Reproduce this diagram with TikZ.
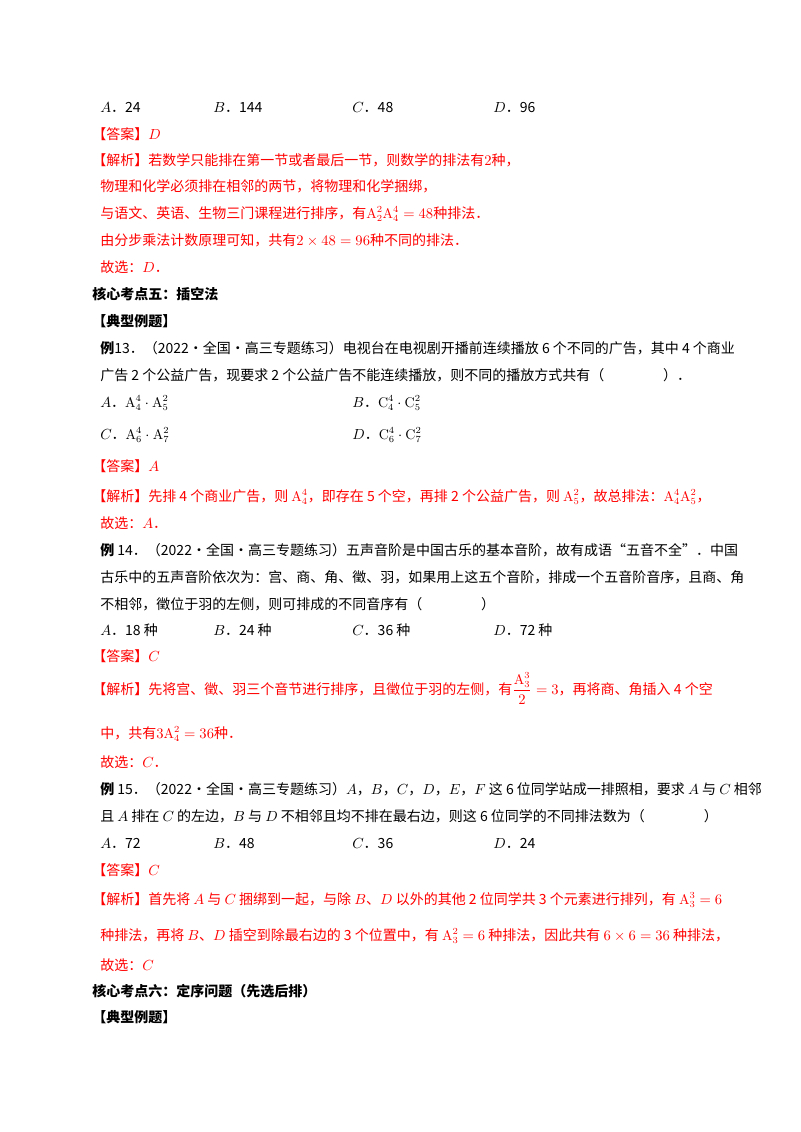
\documentclass[tikz,border=0pt]{standalone}
\usepackage{fontspec}
\newfontfamily\cjk{Noto Sans CJK SC}
\tikzset{
 t/.style={anchor=base west, inner sep=0pt, font=\cjk\fontsize{10.5}{12}\selectfont},
 r/.style={t, text=red},
 hb/.style={t, font=\cjk\bfseries\fontsize{10.5}{12}\selectfont}
}
\newcommand{\A}[2]{\mathrm{A}_{#1}^{#2}}
\newcommand{\Cc}[2]{\mathrm{C}_{#1}^{#2}}
\begin{document}
\begin{tikzpicture}[x=0.75pt,y=-0.75pt]
\fill[white] (0,0) rectangle (800,1132);
\node[t] (l1a) at (100,112) {$A$．24};
\node[t] (l1b) at (213,112) {$B$．144};
\node[t] (l1c) at (352,112) {$C$．48};
\node[t] (l1d) at (493,112) {$D$．96};
\node[r] (l2) at (92,139) {【答案】$D$};
\node[r] (l3) at (92,165) {【解析】若数学只能排在第一节或者最后一节，则数学的排法有$2$种，};
\node[r] (l4) at (100,191) {物理和化学必须排在相邻的两节，将物理和化学捆绑，};
\node[r] (l5) at (100,218) {与语文、英语、生物三门课程进行排序，有$\A{2}{2}\A{4}{4}=48$种排法．};
\node[r] (l6) at (100,245) {由分步乘法计数原理可知，共有$2\times48=96$种不同的排法．};
\node[r] (l7) at (100,272) {故选：$D$．};
\node[hb] (h5) at (92,299) {核心考点五：插空法};
\node[hb] (d1) at (92,326) {【典型例题】};
\node[t] (e13a) at (100,353) {\textbf{例}13．（2022·全国·高三专题练习）电视台在电视剧开播前连续播放 6 个不同的广告，其中 4 个商业};
\node[t] (e13b) at (100,380) {广告 2 个公益广告，现要求 2 个公益广告不能连续播放，则不同的播放方式共有（\hspace{4.2em}）．};
\node[t] (o1) at (100,407) {$A$．$\A{4}{4}\cdot\A{5}{2}$};
\node[t] (o2) at (352,407) {$B$．$\Cc{4}{4}\cdot\Cc{5}{2}$};
\node[t] (o3) at (100,439) {$C$．$\A{6}{4}\cdot\A{7}{2}$};
\node[t] (o4) at (352,439) {$D$．$\Cc{6}{4}\cdot\Cc{7}{2}$};
\node[r] (a13) at (92,471) {【答案】$A$};
\node[r] (j13) at (92,501) {【解析】先排 4 个商业广告，则 $\A{4}{4}$，即存在 5 个空，再排 2 个公益广告，则 $\A{5}{2}$，故总排法：$\A{4}{4}\A{5}{2}$，};
\node[r] (g13) at (100,528) {故选：$A$．};
\node[t] (e14a) at (100,555) {\textbf{例} 14．（2022·全国·高三专题练习）五声音阶是中国古乐的基本音阶，故有成语“五音不全”．中国};
\node[t] (e14b) at (100,582) {古乐中的五声音阶依次为：宫、商、角、徵、羽，如果用上这五个音阶，排成一个五音阶音序，且商、角};
\node[t] (e14c) at (100,609) {不相邻，徵位于羽的左侧，则可排成的不同音序有（\hspace{4.2em}）};
\node[t] (p1) at (100,635) {$A$．18 种};
\node[t] (p2) at (213,635) {$B$．24 种};
\node[t] (p3) at (352,635) {$C$．36 种};
\node[t] (p4) at (493,635) {$D$．72 种};
\node[r] (a14) at (92,661) {【答案】$C$};
\node[r] (j14) at (92,694) {【解析】先将宫、徵、羽三个音节进行排序，且徵位于羽的左侧，有$\displaystyle\frac{\A{3}{3}}{2}=3$，再将商、角插入 4 个空};
\node[r] (j14b) at (100,738) {中，共有$3\A{4}{2}=36$种．};
\node[r] (g14) at (100,767) {故选：$C$．};
\node[t] (e15a) at (100,794) {\textbf{例} 15．（2022·全国·高三专题练习）$A$，$B$，$C$，$D$，$E$，$F$ 这 6 位同学站成一排照相，要求 $A$ 与 $C$ 相邻};
\node[t] (e15b) at (100,821) {且 $A$ 排在 $C$ 的左边，$B$ 与 $D$ 不相邻且均不排在最右边，则这 6 位同学的不同排法数为（\hspace{4.2em}）};
\node[t] (q1) at (100,848) {$A$．72};
\node[t] (q2) at (213,848) {$B$．48};
\node[t] (q3) at (352,848) {$C$．36};
\node[t] (q4) at (493,848) {$D$．24};
\node[r] (a15) at (92,875) {【答案】$C$};
\node[r] (j15) at (92,904) {【解析】首先将 $A$ 与 $C$ 捆绑到一起，与除 $B$、$D$ 以外的其他 2 位同学共 3 个元素进行排列，有 $\A{3}{3}=6$};
\node[r] (j15b) at (100,940) {种排法，再将 $B$、$D$ 插空到除最右边的 3 个位置中，有 $\A{3}{2}=6$ 种排法，因此共有 $6\times6=36$ 种排法，};
\node[r] (g15) at (100,970) {故选：$C$};
\node[hb] (h6) at (92,996) {核心考点六：定序问题（先选后排）};
\node[hb] (d2) at (92,1022) {【典型例题】};
\end{tikzpicture}
\end{document}
